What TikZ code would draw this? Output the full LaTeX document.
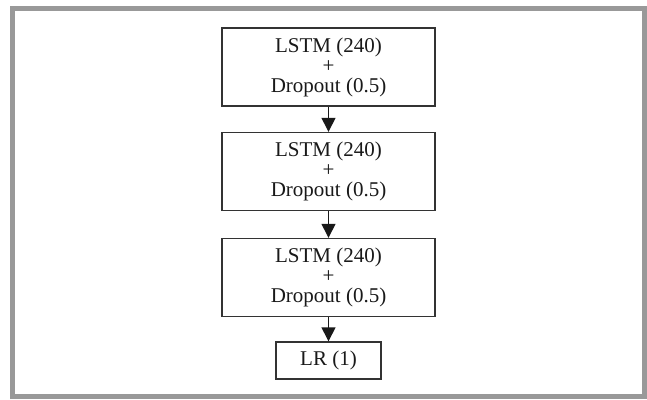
\documentclass[tikz,border=0pt]{standalone}
\usepackage{fontspec}
\setmainfont{Liberation Serif}
\usetikzlibrary{arrows.meta}
\definecolor{framegray}{HTML}{999999}
\definecolor{boxline}{HTML}{333333}
\begin{document}
\begin{tikzpicture}[x=1pt,y=-1pt,
  layerbox/.style={draw=boxline,line width=1.4pt,minimum width=213pt,minimum height=78pt,inner sep=0pt,align=center,font=\fontsize{21}{20}\selectfont,text=black!90},
  outbox/.style={layerbox,minimum width=105pt,minimum height=37pt},
  flow/.style={draw=black!90,line width=1.4pt,-{Triangle[width=14pt,length=14pt]}}]
\useasboundingbox (0,0) rectangle (647,399);
\fill[white] (0,0) rectangle (647,399);
\draw[framegray,line width=5pt] (12.5,8.5) rectangle (644.5,396.5);
\node[layerbox] (l1) at (328.5,67) {LSTM (240)\\+\\Dropout (0.5)};
\node[layerbox] (l2) at (328.5,171.5) {LSTM (240)\\+\\Dropout (0.5)};
\node[layerbox] (l3) at (328.5,277.5) {LSTM (240)\\+\\Dropout (0.5)};
\node[outbox] (lr) at (328.5,360.5) {LR (1)};
\draw[flow] (l1) -- (l2);
\draw[flow] (l2) -- (l3);
\draw[flow] (l3) -- (lr);
\end{tikzpicture}
\end{document}
